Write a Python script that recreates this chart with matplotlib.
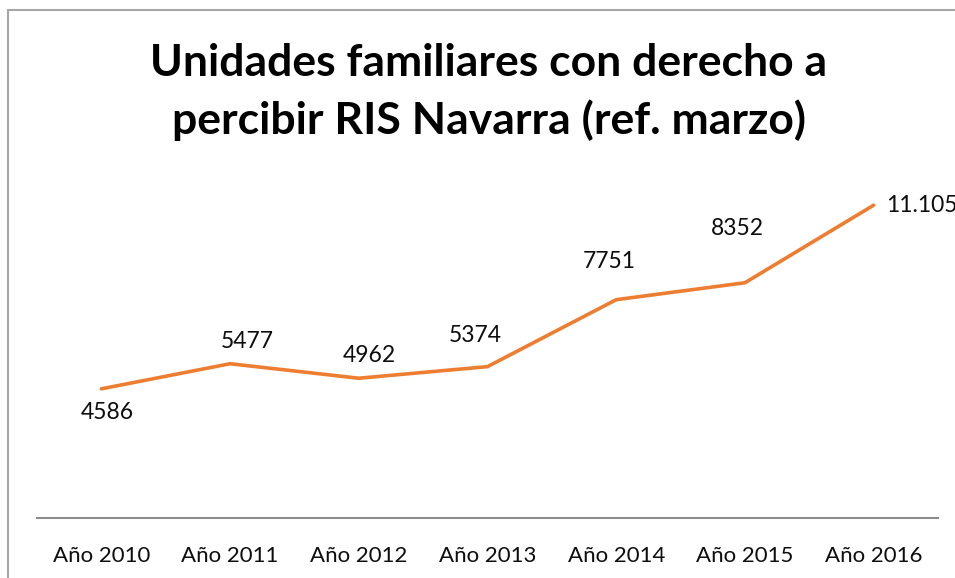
import matplotlib.pyplot as plt
from matplotlib.patches import Rectangle

years = ["Año 2010", "Año 2011", "Año 2012", "Año 2013", "Año 2014", "Año 2015", "Año 2016"]
unidades = [4586, 5477, 4962, 5374, 7751, 8352, 11105]
etiquetas = ["4586", "5477", "4962", "5374", "7751", "8352", "11.105"]

# label offsets from the point, in pixels (dx, dy up)
label_off = [(6, -24), (17, 22), (11, 23), (-12, 31), (-7, 38), (-8, 54), (12, 0)]

W, H = 955, 578
fig = plt.figure(figsize=(W / 100, H / 100), dpi=100)
plt.rcParams['font.family'] = ['Lato', 'DejaVu Sans']

# chart border (only left/top visible in the crop)
fig.patches.append(Rectangle((8 / W, -0.1), 2, (H - 10) / H + 0.1, transform=fig.transFigure,
                             fill=False, edgecolor='#a6a6a6', linewidth=1.5))

ax = fig.add_axes([37 / W, (H - 518) / H, (938 - 37) / W, (518 - 180) / H])
x = range(len(years))
ax.plot(x, unidades, color='#ED7D31', linewidth=2.6, solid_capstyle='round')
ax.set_xlim(-0.5, len(years) - 0.5)
ax.set_ylim(0, 12000)

fs = 16.5
for i, (v, t) in enumerate(zip(unidades, etiquetas)):
    dx, dy = label_off[i]
    ha = 'left' if i == len(unidades) - 1 else 'center'
    ax.annotate(t, (i, v), xytext=(dx * 0.72, dy * 0.72), textcoords='offset points',
                ha=ha, va='center', fontsize=fs, color='#0d0d0d',
                annotation_clip=False)

for s in ['top', 'right', 'left']:
    ax.spines[s].set_visible(False)
ax.spines['bottom'].set_color('#8c8c8c')
ax.spines['bottom'].set_linewidth(1.5)
ax.set_yticks([])
ax.set_xticks(list(x))
ax.set_xticklabels(years, fontsize=16, color='#0d0d0d')
ax.tick_params(axis='x', length=0, pad=20)

fig.text(489 / W, 1 - 92 / H, "Unidades familiares con derecho a\npercibir RIS Navarra (ref. marzo)",
         ha='center', va='center', fontsize=32, fontweight='bold', linespacing=1.45)

fig.savefig('out.png', dpi=100)
